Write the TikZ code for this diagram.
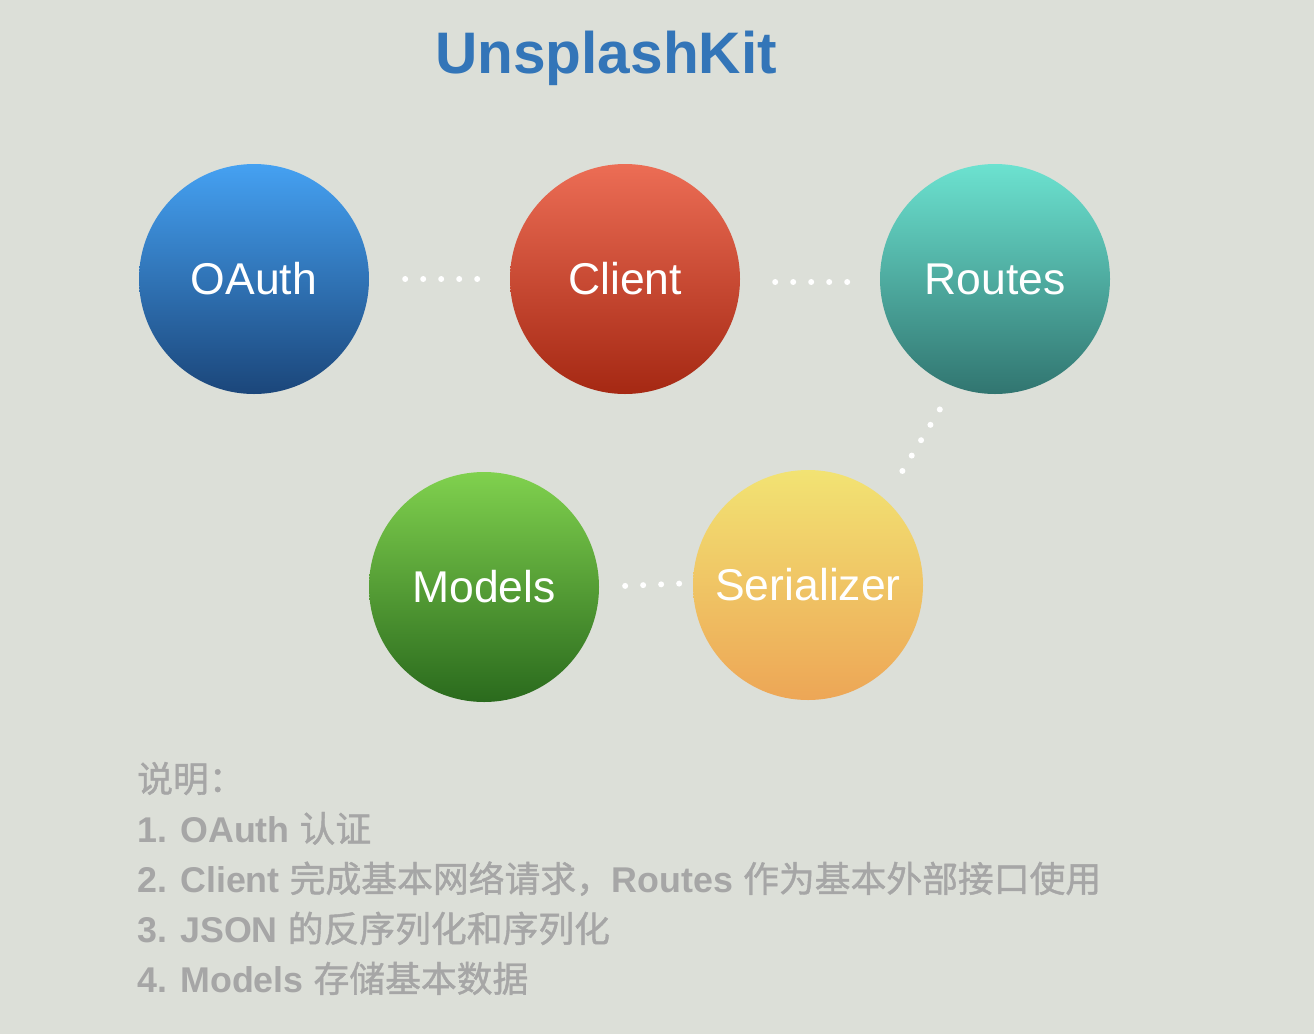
\documentclass[tikz,border=0pt]{standalone}
\usepackage{fontspec}
\setmainfont{Liberation Sans}
\newfontfamily\cjk{Noto Sans CJK SC}[FakeBold=1.2]
\definecolor{bg}{RGB}{220,223,216}
\definecolor{titleblue}{RGB}{51,117,184}
\definecolor{notegray}{RGB}{166,166,166}
\definecolor{oauthtop}{RGB}{69,161,242}
\definecolor{oauthbot}{RGB}{27,70,122}
\definecolor{clienttop}{RGB}{236,109,85}
\definecolor{clientbot}{RGB}{165,40,19}
\definecolor{routestop}{RGB}{108,226,208}
\definecolor{routesbot}{RGB}{49,117,112}
\definecolor{modelstop}{RGB}{128,209,78}
\definecolor{modelsbot}{RGB}{42,106,29}
\definecolor{serialtop}{RGB}{242,227,115}
\definecolor{serialbot}{RGB}{237,166,86}
\tikzset{
  module/.style={circle, minimum size=230pt, inner sep=0pt, text=white, font=\fontsize{44.5}{48}\selectfont},
  link/.style={draw=white, line width=6pt, line cap=round, dash pattern=on 0pt off 18pt},
  title/.style={anchor=base, inner sep=0pt, text=titleblue, font=\bfseries\fontsize{58.6}{62}\selectfont},
  note/.style={anchor=base west, inner sep=0pt, text=notegray, font=\bfseries\fontsize{35.8}{40}\selectfont}
}
\newcommand\zh[1]{{\cjk\mdseries #1}}

\begin{document}
\begin{tikzpicture}[x=1pt, y=-1pt]
  \fill[bg] (0,0) rectangle (1314,1034);
  \useasboundingbox (0,0) rectangle (1314,1034);

  \node[title] (kit) at (606,73) {UnsplashKit};

  % modules
  \node[module, top color=oauthtop, bottom color=oauthbot] (oauth) at (254,279) {OAuth};
  \node[module, top color=clienttop, bottom color=clientbot] (client) at (625,279) {Client};
  \node[module, top color=routestop, bottom color=routesbot] (routes) at (995,279) {Routes};
  \node[module, top color=modelstop, bottom color=modelsbot] (models) at (484,587) {Models};
  \node[module, top color=serialtop, bottom color=serialbot] (serializer) at (808,585) {Serializer};

  % dotted links
  \draw[link, shorten <=36pt, shorten >=32.5pt] (oauth) -- (client);
  \draw[link, shorten <=35pt, shorten >=32.5pt] ([yshift=-3pt]client.east) -- ([yshift=-3pt]routes.west);
  \draw[link, shorten <=26.8pt, shorten >=32.8pt] (routes.-111.6) -- (serializer.48);
  \draw[link, shorten <=26pt, shorten >=13.5pt] (models.east) -- ([yshift=2pt]serializer.west);

  % notes
  \node[note] (n0) at (137,792) {\zh{说明：}};
  \node[note] (n1) at (137,842) {1. OAuth \zh{认证}};
  \node[note] (n2) at (137,892) {2. Client \zh{完成基本网络请求，}Routes \zh{作为基本外部接口使用}};
  \node[note] (n3) at (137,942) {3. JSON \zh{的反序列化和序列化}};
  \node[note] (n4) at (137,992) {4. Models \zh{存储基本数据}};
\end{tikzpicture}
\end{document}
